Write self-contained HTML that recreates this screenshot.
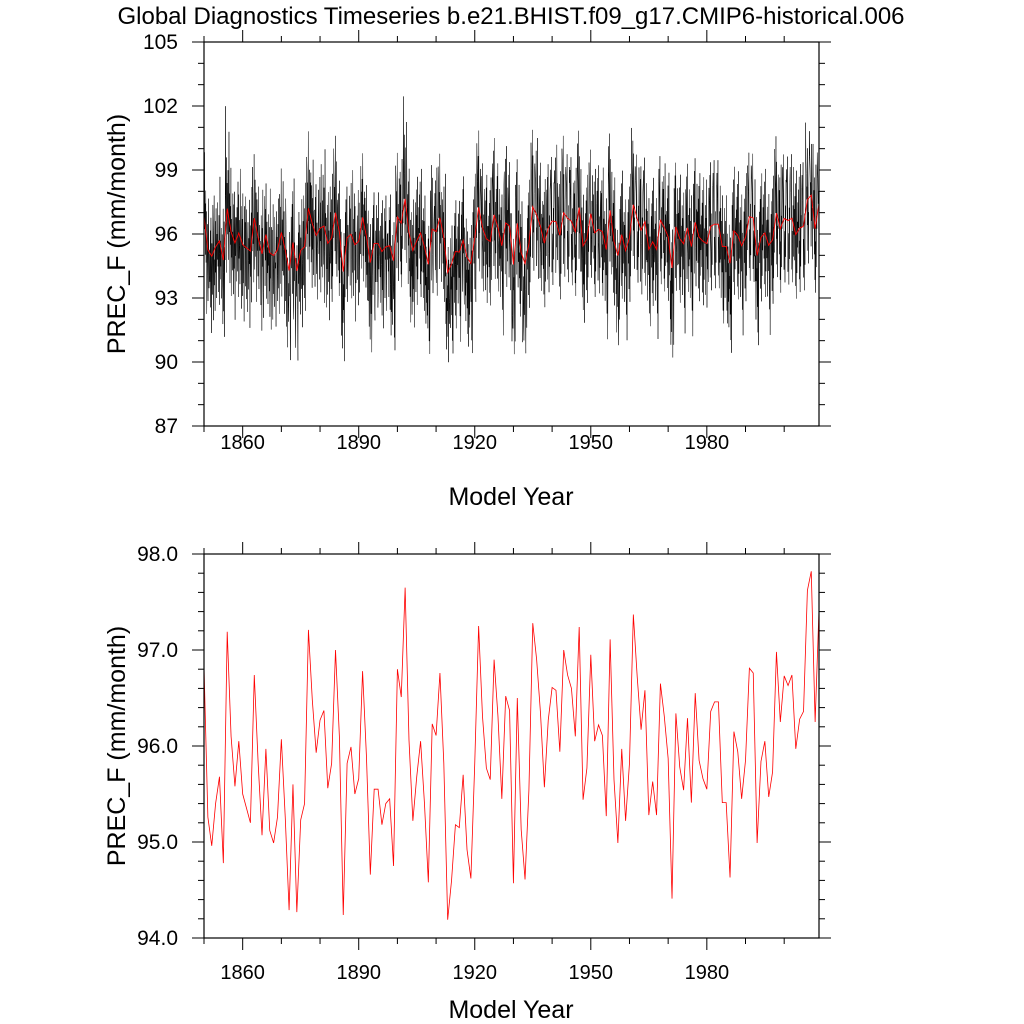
<!DOCTYPE html>
<html><head><meta charset="utf-8"><style>
html,body{margin:0;padding:0;background:#fff;}
svg{display:block;font-family:"Liberation Sans",sans-serif;}
</style></head><body>
<svg id="chart" width="1024" height="1024" viewBox="0 0 1024 1024">
<text x="511" y="24" font-size="24" text-anchor="middle">Global Diagnostics Timeseries b.e21.BHIST.f09_g17.CMIP6-historical.006</text>
<g id="top"></g>
<g id="bot"></g>
</svg>
<script>
const years = Array.from({length:160},(_,i)=>1850+i);
const annualMean = [96.83,95.26,94.96,95.4,95.68,94.78,97.19,96.1,95.58,96.05,
95.5,95.35,95.2,96.74,95.82,95.07,95.97,95.12,94.99,95.26,
96.07,95.26,94.29,95.6,94.27,95.23,95.4,97.21,96.48,95.93,
96.27,96.37,95.56,95.82,97.0,96.1,94.24,95.82,95.99,95.5,
95.66,96.78,95.89,94.66,95.55,95.55,95.18,95.4,95.45,94.75,
96.8,96.51,97.65,96.06,95.22,95.68,96.05,95.4,94.58,96.23,
96.11,96.76,95.82,94.19,94.6,95.18,95.15,95.7,94.92,94.62,
95.82,97.25,96.31,95.77,95.65,96.9,96.31,95.45,96.52,96.37,
94.57,96.5,95.13,94.61,95.54,97.28,96.9,96.34,95.57,96.27,
96.61,96.58,95.94,97.0,96.74,96.6,96.1,97.24,95.44,95.77,
96.95,96.05,96.22,96.11,95.27,97.11,95.65,94.99,95.97,95.22,
95.82,97.37,96.72,96.17,96.58,95.28,95.63,95.28,96.65,96.31,
95.87,94.41,96.34,95.78,95.54,96.29,95.41,96.55,95.85,95.66,
95.55,96.36,96.46,96.46,95.41,95.41,94.63,96.15,95.94,95.45,
95.85,96.81,96.76,94.99,95.84,96.05,95.47,95.73,96.98,96.25,
96.73,96.63,96.74,95.97,96.28,96.36,97.62,97.82,96.25,97.42];
// monthly deviations from annual mean, coded: 'h' = 0, each letter step = 0.6 mm/month
const monthlyDevCodes = [
"nfjbkhdmgiej","gkcfjhdliefh","fjdkgbiheljc","hlegcjfkdhig","kfhdjgcmehfi","efjhcldgkbih",
"piglcjhfkdgn","hkdjgmcifhek","gdkflhbjgije","jehlckfgidmh","fkchjdleghbk","hjelgdkfchjg",
"eiglbjfhkdmh","ljfhcmgdkiej","hckgjelfdhig","ifdkhbjgmech","ghkdjflchieg","dkghejcmfhbj",
"hjfcleghdkig","gbkhifdjelhc","khdjgmfciehl","fhkcigdljbhe","bihedgfkjcag","jfhkdlgcbmeh",
"hdbigfjecakg","kgdjhcifelgb","gjelhdkfcmhi","lkfjdnghckej","hlekgcjfmdhi","jgdkhleficgh",
"ikfhdlgjcmeh","hjdlgekfbnhi","gcjfkdhleigb","hlfjdkgcmeih","mkhjengdlfci","jgekhcldgifh",
"cifbhdgekajf","jgkdhlfciegh","ikgdjhlfchem","gdjhlfkbiegh",
"hjeglcfkdhig","lhjdkgmeicfj","hkfjdgleichj","ehcjgbkfdiag","jgdkhlfcbieh","hkegjcdlfihg",
"fjdhkgcleibh","hkfdjglcehig","ifhdkgjcleah","dhcjgefkbiag",
"lkhjdmfgicek","jhlekdgcmfih","pkhmjdlfgcni","jhkdlgmefcia","hfkcjgdleibh","gkhdlfjcmeih",
"jhkfldgcmehi","hfkdjgcleibh","egdhcjfkbiag","kjgmdhlfcehi",
"jhkelfdgmcih","lkhjdmgfiecj","ihkfjdlgchem","dfbhegcjaifd","ehcjfgdkbhag","hfjdkgclbieh",
"gjdkhfleciag","jhkfdlgmecih","ehckfgdjbiag","dhcjgfekbiaf",
"jhkflgdmecih","mkhjldnfgcik","kjhldmgfciek","jgkdhlfmciei","hjfkdlgcmeih","lkjhmdnfgcie",
"kjhldmgfciek","gjdkhfleciag","kljhdmgfncie","kjhldmgfciei",
"ebdhcjfgaieb","kjhldmgfciek","fhdkcjgeliab","egbhdjfcaiec","hjfkdlgcmeig","mkjhndlfgcik",
"lkjhmdgfniec","kjhldmgfciej","hjfkdlgcmeig","jkhldmgfciek",
"kljhmdgfciek","kljhmdgfniek","jhkfdlgcmeih","mljhndkfgcik","lkjhmdgfciel","kljhmdgfciek",
"jhkfldgcmeih","mkjhndlfgcik","hfkdjgcleibh","hjfkdlgcmeig",
"lkjhmdgfciek","jhkfldgcmeii","jkhldmgfciek","jhkfldgcmeih","gkdjhfleciag","mkjhndlfgcik",
"hjfkdlgcmeig","egbhdjfcaiec","jhkfdlgcmeih","gkdjhfleciah",
"hjfkdlgcmeig","nkjhmdlfgcik","lkjhmdgfciel","kjhldmgfciek","kljhmdgfciek","gkdjhflecibh",
"hjfkdlgcmeig","gkdjhfleciag","kljhmdgfciek","jhkfldgcmeih",
"hjfkdlgcmeih","dgbhcjfkaieb","kjhldmgfciek","hjfkdlgcmeig","gkdjhfleciag","kjhldmgfciek",
"gkdjhfleciah","kjhldmgfciek","hjfkdlgcmeig","hjfkdlgcmeih",
"hkdjgmcifhek","kjhldmgfciek","kljhmdgfciek","kljhmdgfciek","gkdjhflecibh","gkdjhflecibh",
"ehckfgdjbiag","jhkfldgcmeih","hjfkdlgcmeig","gkdjhfleciah",
"hjfkdlgcmeig","lkjhmdgfciel","lkjhmdgfciek","fhckfgdjbiah","hjfkdlgcmeig","jhkfldgcmeih",
"gkdjhfleciag","hjfkdlgcmeig","mkjhndlfgcik","jhkfldgcmeih",
"lkjhmdgfciek","kljhmdgfciek","lkjhmdgfciel","hjfkdlgcmeig","jhkfldgcmeih","kljhmdgfciek",
"nkjhidlfgcik","mkjhidlfgcil","jhkfldgcmeih","lkjhidlfgcik"];
const topTicks = [87,90,93,96,99,102,105];
const botTicks = [94.0,95.0,96.0,97.0,98.0];
const botTickLabels = ["94.0","95.0","96.0","97.0","98.0"];
const xTicks = [1860,1890,1920,1950,1980];

const NS="http://www.w3.org/2000/svg";
const L=204, R=819, X0=1850, X1=2009;
const xs = v => L + (v-X0)/(X1-X0)*(R-L);
function mk(tag, attrs, parent){const e=document.createElementNS(NS,tag);for(const k in attrs)e.setAttribute(k,attrs[k]);parent.appendChild(e);return e;}

function panel(g, top, bot, ymin, ymax, ticks, labels, minorStep, tickLabY, xTitleY, id){
  const ys = v => bot - (v-ymin)/(ymax-ymin)*(bot-top);
  const cp = mk('clipPath',{id:'clip'+id},g);
  mk('rect',{x:L,y:top,width:R-L,height:bot-top},cp);
  for(let v=ymin; v<=ymax+1e-9; v+=minorStep){
    const y=ys(v);
    const tk=mk('line',{x1:L-6,x2:L,y1:y,y2:y,stroke:'#000','stroke-width':1},g);
    
    
    const tk2=mk('line',{x1:R,x2:R+6,y1:y,y2:y,stroke:'#000','stroke-width':1},g);
    
    
  }
  ticks.forEach((v,i)=>{
    const y=ys(v);
    const a=mk('line',{x1:L-12,x2:L,y1:y,y2:y,stroke:'#000','stroke-width':1},g);
    
    
    const b=mk('line',{x1:R,x2:R+12,y1:y,y2:y,stroke:'#000','stroke-width':1},g);
    
    
    const t=mk('text',{x:178,y:y+7,'font-size':21,'text-anchor':'end'},g);
    t.textContent=labels[i];
    
    
  });
  for(let yr=1850; yr<=2009; yr+=10){
    const x=xs(yr), major=xTicks.includes(yr), len=major?12:6;
    const a=mk('line',{x1:x,x2:x,y1:bot,y2:bot+len,stroke:'#000','stroke-width':1},g);
    
    
    const b=mk('line',{x1:x,x2:x,y1:top-len,y2:top,stroke:'#000','stroke-width':1},g);
    
    
  }
  xTicks.forEach(yr=>{
    const t=mk('text',{x:xs(yr),y:tickLabY,'font-size':20,'text-anchor':'middle'},g);
    t.textContent=String(yr);
    
    
  });
  const xt=mk('text',{x:511,y:xTitleY,'font-size':25,'text-anchor':'middle'},g);
  xt.textContent='Model Year';
  
  
  const cy=(top+bot)/2;
  const yt=mk('text',{x:125,y:cy,'font-size':25,'text-anchor':'middle',transform:`rotate(-90 125 ${cy})`},g);
  yt.textContent='PREC_F (mm/month)';
  
  
  return ys;
}

const gt=document.getElementById('top');
const ysT=panel(gt,42,426,87,105,topTicks,topTicks.map(String),1,449,505,'t');
let pts=[];
years.forEach((yr,i)=>{
  const code=monthlyDevCodes[i].padEnd(12,'h');
  for(let m=0;m<12;m++){
    const v=annualMean[i]+(code.charCodeAt(m)-104)*0.6;
    pts.push(xs(yr-0.5+(m+0.5)/12).toFixed(2)+','+ysT(v).toFixed(2));
  }
});
const ml=mk('polyline',{points:pts.join(' '),fill:'none',stroke:'#000','stroke-width':0.5,'clip-path':'url(#clipt)'},gt);


const al=mk('polyline',{points:years.map((yr,i)=>xs(yr).toFixed(2)+','+ysT(annualMean[i]).toFixed(2)).join(' '),fill:'none',stroke:'#f00','stroke-width':0.9},gt);


const ft=mk('rect',{x:L,y:42,width:R-L,height:384,fill:'none',stroke:'#000','stroke-width':1.2},gt);



const gb=document.getElementById('bot');
const ysB=panel(gb,554,938,94,98,botTicks,botTickLabels,0.2,979,1018,'b');
const bl=mk('polyline',{points:years.map((yr,i)=>xs(yr).toFixed(2)+','+ysB(annualMean[i]).toFixed(2)).join(' '),fill:'none',stroke:'#f00','stroke-width':0.8,'clip-path':'url(#clipb)'},gb);


const fb=mk('rect',{x:L,y:554,width:R-L,height:384,fill:'none',stroke:'#000','stroke-width':1.2},gb);


</script>
</body></html>
